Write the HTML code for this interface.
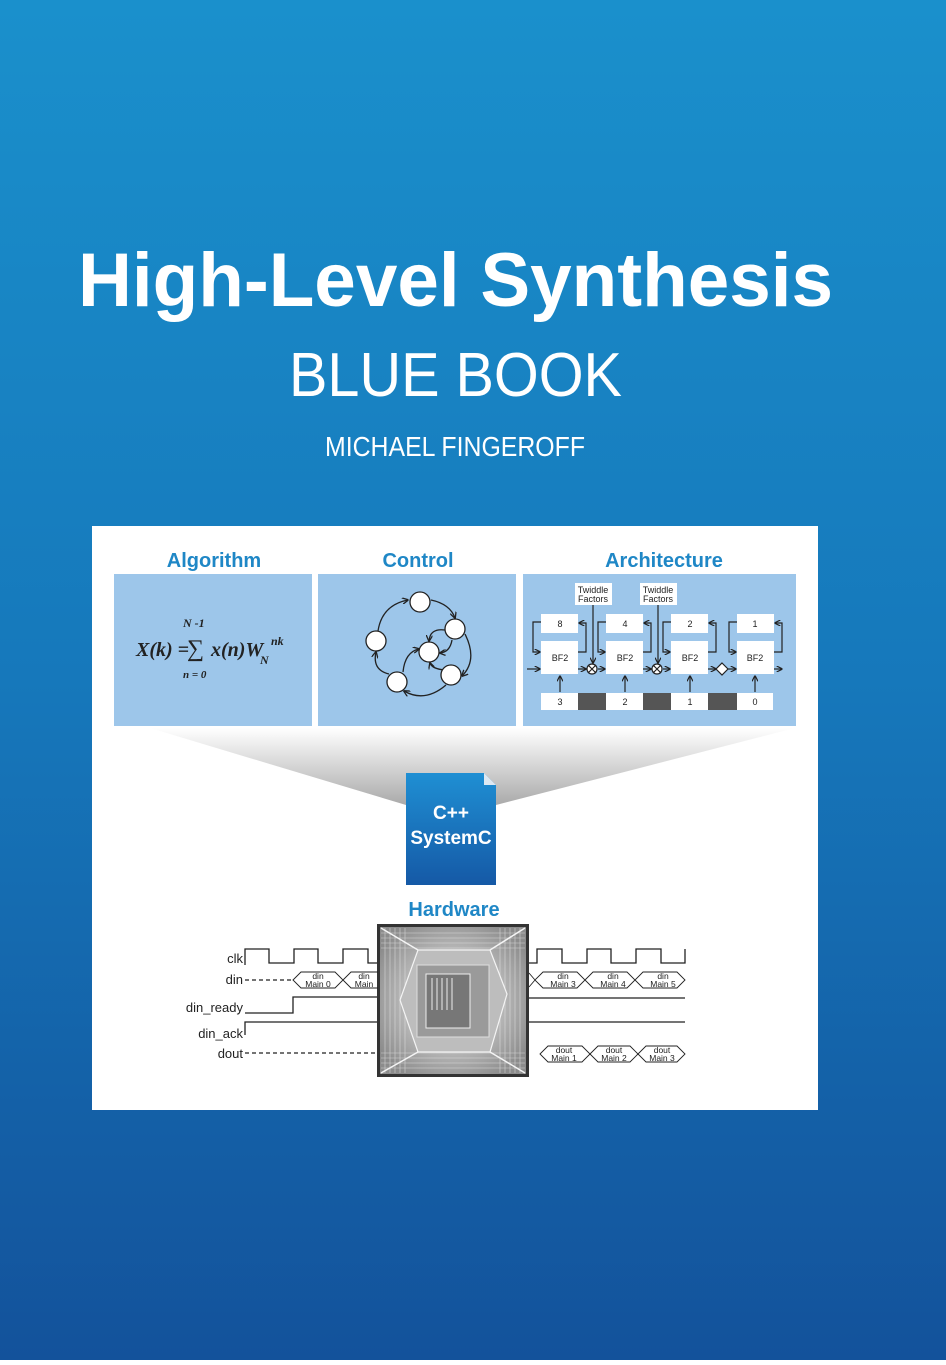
<!DOCTYPE html>
<html><head><meta charset="utf-8"><style>html,body{margin:0;padding:0}body{width:946px;height:1360px;overflow:hidden}</style></head>
<body>
<svg width="946" height="1360" viewBox="0 0 946 1360" xmlns="http://www.w3.org/2000/svg" font-family="Liberation Sans, sans-serif">
<defs>
<linearGradient id="bg" x1="0" y1="0" x2="0" y2="1"><stop offset="0" stop-color="#1a90cc"/><stop offset="0.5" stop-color="#1678bb"/><stop offset="1" stop-color="#13529b"/></linearGradient>
<linearGradient id="fun" x1="0" y1="0" x2="0" y2="1"><stop offset="0" stop-color="#ffffff"/><stop offset="1" stop-color="#aaaaaa"/></linearGradient>
<linearGradient id="doc" x1="0" y1="0" x2="0" y2="1"><stop offset="0" stop-color="#1f8fd3"/><stop offset="1" stop-color="#1559a6"/></linearGradient>
<radialGradient id="chip" cx="0.5" cy="0.5" r="0.6"><stop offset="0" stop-color="#d0d0d0"/><stop offset="0.6" stop-color="#b4b4b4"/><stop offset="1" stop-color="#8c8c8c"/></radialGradient>
<marker id="ar" viewBox="0 0 10 10" refX="9" refY="5" markerWidth="5" markerHeight="5" orient="auto"><path d="M0,0L10,5L0,10" fill="none" stroke="#222" stroke-width="2"/></marker>
</defs>
<rect width="946" height="1360" fill="url(#bg)"/>
<text x="78" y="306" font-size="76" font-weight="bold" fill="#fff" textLength="755" lengthAdjust="spacingAndGlyphs">High-Level Synthesis</text>
<text x="289" y="396" font-size="62" fill="#fff" textLength="333" lengthAdjust="spacingAndGlyphs">BLUE BOOK</text>
<text x="325" y="456" font-size="28" fill="#fff" textLength="260" lengthAdjust="spacingAndGlyphs">MICHAEL FINGEROFF</text>

<rect x="92" y="526" width="726" height="584" fill="#fff"/>
<g font-weight="bold" font-size="20" fill="#1f87c6" text-anchor="middle">
<text x="214" y="567">Algorithm</text><text x="418" y="567">Control</text><text x="664" y="567">Architecture</text>
<text x="454" y="762">Implementation</text><text x="454" y="916">Hardware</text>
</g>
<rect x="114" y="574" width="198" height="152" fill="#9dc6ea"/>
<rect x="318" y="574" width="198" height="152" fill="#9dc6ea"/>
<rect x="523" y="574" width="273" height="152" fill="#9dc6ea"/>

<g font-family="Liberation Serif, serif" font-style="italic" font-weight="bold" fill="#222">
<text x="183" y="627" font-size="12">N -1</text>
<text x="136" y="656" font-size="20">X(k) =</text>
<text x="187" y="656" font-size="24" font-style="normal" font-weight="normal">∑</text>
<text x="211" y="656" font-size="20">x(n)W</text>
<text x="260" y="664" font-size="12">N</text>
<text x="271" y="645" font-size="12">nk</text>
<text x="183" y="678" font-size="11">n = 0</text>
</g>

<g fill="none" stroke="#222" stroke-width="1.3" marker-end="url(#ar)">
<path d="M378,631 Q382,605 408,600"/>
<path d="M431,600 Q450,604 455,618"/>
<path d="M465,634 Q478,660 462,676"/>
<path d="M446,685 Q425,703 404,691"/>
<path d="M389,674 Q372,670 376,652"/>
<path d="M403,672 Q405,652 419,649"/>
<path d="M445,630 Q430,628 429,641"/>
<path d="M452,640 Q450,652 440,653"/>
<path d="M445,670 Q432,669 430,663"/>
</g>
<g fill="#fff" stroke="#222" stroke-width="1.3">
<circle cx="420" cy="602" r="10"/><circle cx="455" cy="629" r="10"/><circle cx="376" cy="641" r="10"/>
<circle cx="429" cy="652" r="10"/><circle cx="451" cy="675" r="10"/><circle cx="397" cy="682" r="10"/>
</g>

<g font-size="9" fill="#222" text-anchor="middle">
<rect x="575" y="583" width="37" height="22" fill="#fff"/><text x="593" y="593">Twiddle</text><text x="593" y="602">Factors</text>
<rect x="640" y="583" width="37" height="22" fill="#fff"/><text x="658" y="593">Twiddle</text><text x="658" y="602">Factors</text>
<g fill="#fff">
<rect x="541" y="614" width="37" height="19"/><rect x="606" y="614" width="37" height="19"/><rect x="671" y="614" width="37" height="19"/><rect x="737" y="614" width="37" height="19"/>
<rect x="541" y="641" width="37" height="33"/><rect x="606" y="641" width="37" height="33"/><rect x="671" y="641" width="37" height="33"/><rect x="737" y="641" width="37" height="33"/>
<rect x="541" y="693" width="232" height="17"/>
</g>
<g fill="#555"><rect x="578" y="693" width="28" height="17"/><rect x="643" y="693" width="28" height="17"/><rect x="708" y="693" width="29" height="17"/></g>
<text x="560" y="627">8</text><text x="625" y="627">4</text><text x="690" y="627">2</text><text x="755" y="627">1</text>
<text x="560" y="661">BF2</text><text x="625" y="661">BF2</text><text x="690" y="661">BF2</text><text x="755" y="661">BF2</text>
<text x="560" y="705">3</text><text x="625" y="705">2</text><text x="690" y="705">1</text><text x="755" y="705">0</text>
</g>
<g fill="none" stroke="#222" stroke-width="1.2">
<path d="M527,669 H540" marker-end="url(#ar)"/>
<path d="M578,669 H586" marker-end="url(#ar)"/><path d="M598,669 H605" marker-end="url(#ar)"/>
<path d="M643,669 H651" marker-end="url(#ar)"/><path d="M663,669 H670" marker-end="url(#ar)"/>
<path d="M708,669 H716" marker-end="url(#ar)"/><path d="M728,669 H736" marker-end="url(#ar)"/>
<path d="M774,669 H782" marker-end="url(#ar)"/>
<path d="M593,605 V663" marker-end="url(#ar)"/><path d="M658,605 V663" marker-end="url(#ar)"/>
<g>
<path d="M541,622 H533 V652 H540" marker-end="url(#ar)"/><path d="M578,652 H586 V623 H579" marker-end="url(#ar)"/>
<path d="M606,622 H598 V652 H605" marker-end="url(#ar)"/><path d="M643,652 H651 V623 H644" marker-end="url(#ar)"/>
<path d="M671,622 H663 V652 H670" marker-end="url(#ar)"/><path d="M708,652 H716 V623 H709" marker-end="url(#ar)"/>
<path d="M737,622 H729 V652 H736" marker-end="url(#ar)"/><path d="M774,652 H782 V623 H775" marker-end="url(#ar)"/>
</g>
<path d="M560,692 V676" marker-end="url(#ar)"/><path d="M625,692 V676" marker-end="url(#ar)"/><path d="M690,692 V676" marker-end="url(#ar)"/><path d="M755,692 V676" marker-end="url(#ar)"/>
</g>
<g stroke="#222" stroke-width="1.2" fill="#fff">
<circle cx="592" cy="669" r="5"/><circle cx="657" cy="669" r="5"/>
<path d="M588,665 L596,673 M596,665 L588,673 M653,665 L661,673 M661,665 L653,673"/>
<path d="M722,663 L728,669 L722,675 L716,669 Z"/>
</g>

<path d="M150,728 L795,728 L496,805 L406,805 Z" fill="url(#fun)"/>
<path d="M406,773 H484 L496,785 V885 H406 Z" fill="url(#doc)"/>
<path d="M484,773 V785 H496 Z" fill="#dde8f2"/>
<g font-weight="bold" font-size="19" fill="#fff" text-anchor="middle"><text x="451" y="819">C++</text><text x="451" y="844">SystemC</text></g>

<rect x="377" y="924" width="152" height="153" fill="#333"/>
<rect x="380" y="927" width="146" height="147" fill="url(#chip)"/>
<g stroke="#eee" stroke-width="0.6" opacity="0.7">
<path d="M385,928 V1073 M390,928 V1073 M395,928 V1073 M400,928 V1073 M405,928 V1073 M500,928 V1073 M505,928 V1073 M510,928 V1073 M515,928 V1073 M520,928 V1073"/>
<path d="M381,933 H525 M381,938 H525 M381,943 H525 M381,948 H525 M381,1053 H525 M381,1058 H525 M381,1063 H525 M381,1068 H525"/>
</g>
<path d="M418,950 H490 L507,994 L490,1052 H418 L400,1000 Z" fill="#bdbdbd" stroke="#f4f4f4" stroke-width="1.2"/>
<rect x="417" y="965" width="72" height="72" fill="#9a9a9a" stroke="#ddd"/>
<rect x="426" y="974" width="44" height="54" fill="#777" stroke="#eee"/>
<g stroke="#eee" stroke-width="1"><path d="M432,978 V1010 M437,978 V1010 M442,978 V1010 M447,978 V1010 M452,978 V1010"/></g>
<path d="M381,928 L418,950 M525,928 L490,950 M381,1073 L418,1052 M525,1073 L490,1052" stroke="#f4f4f4" stroke-width="1.5"/>

<g font-size="13" fill="#222" text-anchor="end">
<text x="243" y="963">clk</text><text x="243" y="984">din</text><text x="243" y="1012">din_ready</text><text x="243" y="1038">din_ack</text><text x="243" y="1058">dout</text>
</g>
<g fill="none" stroke="#222" stroke-width="1.3">
<path d="M245,965 V949 H269 V963 H294 V949 H318 V963 H343 V949 H368 V963 H377"/>
<path d="M529,963 H537 V949 H562 V963 H587 V949 H611 V963 H636 V949 H661 V963 H685 V949"/>
<path d="M245,1013 H293 V997 H377 M529,998 H685"/>
<path d="M245,1035 V1022 H377 M529,1022 H685"/>
<path d="M245,980 H293 M245,1053 H377" stroke-dasharray="4,3"/>
</g>
<g fill="none" stroke="#222" stroke-width="0.9">
<path d="M293,980 L301,972 H335 L343,980 L335,988 H301 Z M343,980 L351,972 H378 M343,980 L351,988 H378"/>
<path d="M529,973 L535,980 L543,972 H577 L585,980 L577,988 H543 L535,980 L529,987 M585,980 L593,972 H627 L635,980 L627,988 H593 Z M635,980 L643,972 H677 L685,980 L677,988 H643 Z"/>
<path d="M540,1054 L548,1046 H582 L590,1054 L582,1062 H548 Z M590,1054 L598,1046 H630 L638,1054 L630,1062 H598 Z M638,1054 L646,1046 H677 L685,1054 L677,1062 H646 Z"/>
</g>
<g font-size="8.5" fill="#222" text-anchor="middle">
<text x="318" y="979">din</text><text x="318" y="987">Main 0</text><text x="364" y="979">din</text><text x="364" y="987">Main</text>
<text x="563" y="979">din</text><text x="563" y="987">Main 3</text><text x="613" y="979">din</text><text x="613" y="987">Main 4</text><text x="663" y="979">din</text><text x="663" y="987">Main 5</text>
<text x="564" y="1053">dout</text><text x="564" y="1061">Main 1</text><text x="614" y="1053">dout</text><text x="614" y="1061">Main 2</text><text x="662" y="1053">dout</text><text x="662" y="1061">Main 3</text>
</g>
</svg>
</body></html>
